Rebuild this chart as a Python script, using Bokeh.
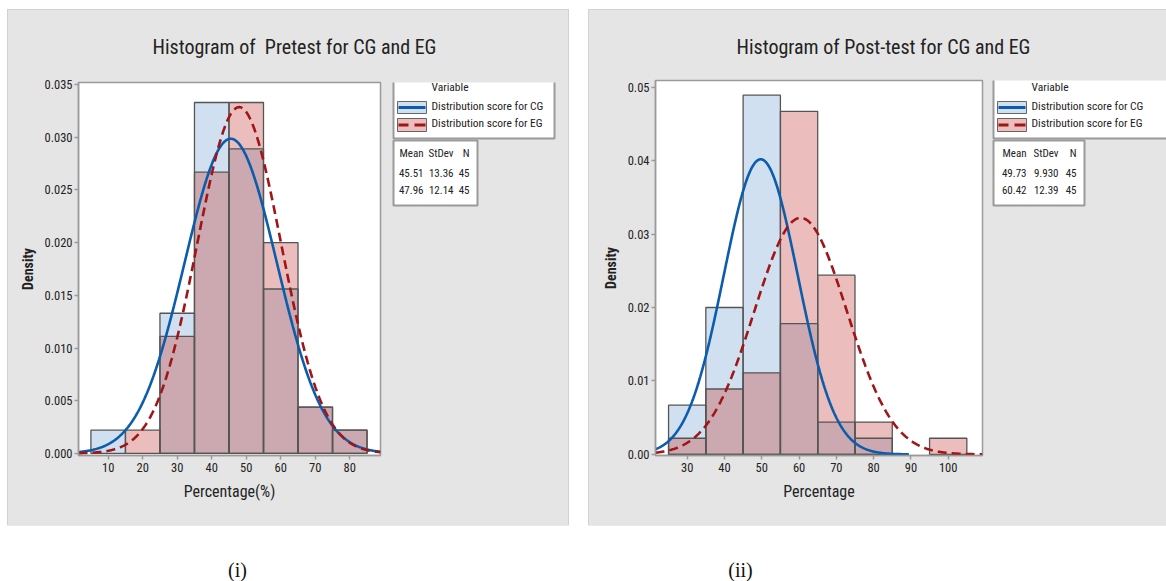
import numpy as np
from bokeh.plotting import figure
from bokeh.models import (Range1d, FixedTicker, PrintfTickFormatter, Label,
                          BoxAnnotation, Spacer)
from bokeh.layouts import row, column
from bokeh.embed import file_html
from bokeh.resources import INLINE

# ---------------- data ----------------
pre_title = "Histogram of\u00a0 Pretest for CG and EG"
pre_xlabel = "Percentage(%)"
pre_bins = [10, 20, 30, 40, 50, 60, 70, 80]
pre_cg = [0.0022, 0.0, 0.0133, 0.0333, 0.0289, 0.0156, 0.0044, 0.0022]
pre_eg = [0.0, 0.0022, 0.0111, 0.0267, 0.0333, 0.0200, 0.0044, 0.0022]
pre_mean = [45.51, 47.96]
pre_sd = [13.36, 12.14]
pre_table = [["45.51", "13.36", "45"], ["47.96", "12.14", "45"]]
pre_xticks = [10, 20, 30, 40, 50, 60, 70, 80]
pre_yticks = [0.0, 0.005, 0.010, 0.015, 0.020, 0.025, 0.030, 0.035]

post_title = "Histogram of Post-test for CG and EG"
post_xlabel = "Percentage"
post_bins = [30, 40, 50, 60, 70, 80, 90, 100]
post_cg = [0.0067, 0.0200, 0.0489, 0.0178, 0.0044, 0.0022, 0.0, 0.0]
post_eg = [0.0022, 0.0089, 0.0111, 0.0467, 0.0244, 0.0044, 0.0, 0.0022]
post_mean = [49.73, 60.42]
post_sd = [9.930, 12.39]
post_table = [["49.73", "9.930", "45"], ["60.42", "12.39", "45"]]
post_xticks = [30, 40, 50, 60, 70, 80, 90, 100]
post_yticks = [0.00, 0.01, 0.02, 0.03, 0.04, 0.05]

series_names = ["Distribution score for CG", "Distribution score for EG"]
table_header = ["Mean", "StDev", "N"]
bin_width = 10
captions = ["(i)", "(ii)"]

# ---------------- style ----------------
FONT = "Liberation Sans Narrow, Roboto Condensed, Roboto, sans-serif"
PANEL = "#e5e5e5"
BLUE_FILL = "#d0e0f0"
PINK_FILL = "#ebbdbd"
MIX_FILL = "#cca9b1"
BAR_LINE = "#555555"
BLUE = "#0b5cab"
RED = "#a01515"
AXIS = "#9a9a9a"
TXT = "#222222"
H = 515
TOP = 62  # height of the title strip inside each panel


def blank(w, h, bg=PANEL):
    f = figure(width=w, height=h, x_range=Range1d(0, 1), y_range=Range1d(0, 1),
               output_backend="svg", toolbar_location=None, min_border=0,
               x_axis_location=None, y_axis_location=None)
    f.grid.visible = False
    f.outline_line_color = None
    f.border_fill_color = bg
    f.background_fill_color = bg
    return f


def box(p, l, t, r, b, fill=None, line=None, lw=1.0):
    p.add_layout(BoxAnnotation(left=l, right=r, top=t, bottom=b,
                               left_units="canvas", right_units="canvas",
                               top_units="canvas", bottom_units="canvas",
                               fill_color=fill, fill_alpha=1.0 if fill else 0.0,
                               line_color=line, line_alpha=1.0 if line else 0.0,
                               line_width=lw))


def text(p, x, y, s, size=12, align="left", font=FONT, color=TXT):
    p.add_layout(Label(x=x, y=y, x_units="canvas", y_units="canvas", text=s,
                       text_font=font, text_font_size=f"{size}px",
                       text_align=align, text_baseline="middle",
                       text_color=color))


def make_hist(width, frame_l, frame_t, frame_b, xr, yr, bins, cg, eg,
              means, sds, xticks, yticks, yfmt, xlabel):
    h = H - TOP
    p = figure(width=width, height=h, x_range=Range1d(*xr), y_range=Range1d(*yr),
               output_backend="svg", toolbar_location=None,
               min_border_left=frame_l, min_border_right=8,
               min_border_top=frame_t - TOP, min_border_bottom=H - frame_b)
    p.border_fill_color = PANEL
    p.background_fill_color = "white"
    p.outline_line_color = AXIS
    p.outline_line_width = 1.5
    p.grid.visible = False

    bins = np.array(bins, float)
    cg = np.array(cg)
    eg = np.array(eg)
    left = bins - bin_width / 2
    right = bins + bin_width / 2
    mix = np.minimum(cg, eg)
    m = cg > 0
    p.quad(left=left[m], right=right[m], bottom=0, top=cg[m],
           fill_color=BLUE_FILL, line_color=None)
    m = eg > 0
    p.quad(left=left[m], right=right[m], bottom=0, top=eg[m],
           fill_color=PINK_FILL, line_color=None)
    m = mix > 0
    p.quad(left=left[m], right=right[m], bottom=0, top=mix[m],
           fill_color=MIX_FILL, line_color=None)
    for vals in (cg, eg):
        m = vals > 0
        p.quad(left=left[m], right=right[m], bottom=0, top=vals[m],
               fill_alpha=0, line_color=BAR_LINE, line_width=1.3)

    for mu, sd, col, dash in zip(means, sds, (BLUE, RED), ("solid", "9 5")):
        xs = np.linspace(max(xr[0], mu - 4 * sd), min(xr[1], mu + 4 * sd), 500)
        ys = np.exp(-0.5 * ((xs - mu) / sd) ** 2) / (sd * np.sqrt(2 * np.pi))
        p.line(xs, ys, line_color=col, line_width=2.6, line_dash=dash)

    for ax in (p.xaxis[0], p.yaxis[0]):
        ax.axis_line_color = AXIS
        ax.axis_line_width = 1.5
        ax.major_tick_line_color = AXIS
        ax.major_tick_line_width = 1.5
        ax.major_tick_out = 4
        ax.major_tick_in = 0
        ax.minor_tick_line_color = None
        ax.major_label_text_font = FONT
        ax.major_label_text_font_size = "12.5px"
        ax.major_label_text_color = TXT
        ax.axis_label_text_font = FONT
        ax.axis_label_text_color = TXT
        ax.axis_label_text_font_style = "normal"
    p.xaxis.ticker = FixedTicker(ticks=xticks)
    p.yaxis.ticker = FixedTicker(ticks=yticks)
    p.yaxis.formatter = PrintfTickFormatter(format=yfmt)
    p.xaxis.axis_label = xlabel
    p.xaxis.axis_label_text_font_size = "16px"
    p.xaxis.major_label_standoff = 3
    p.xaxis.axis_label_standoff = 7
    p.yaxis.axis_label = "Density"
    p.yaxis.axis_label_text_font_size = "14px"
    p.yaxis.axis_label_text_font_style = "bold"
    p.yaxis.major_label_standoff = 2
    p.yaxis.axis_label_standoff = 6
    return p


def make_panel(W, hist_w, frame_l, frame_t, frame_b, xr, yr, bins, cg, eg, means,
               sds, xticks, yticks, yfmt, title, title_x, xlabel, leg_l, leg_r,
               table, col_right):
    t = blank(W, TOP)
    text(t, title_x, 36, title, size=20, align="center")

    hist = make_hist(hist_w, frame_l, frame_t, frame_b, xr, yr, bins, cg, eg,
                     means, sds, xticks, yticks, yfmt, xlabel)

    lg = blank(W - hist_w, H - TOP)
    ox, oy = hist_w, TOP  # origin of legend strip in panel coordinates

    def B(l, tt, r, b, **kw):
        box(lg, l - ox, tt - oy, r - ox, b - oy, **kw)

    def T(x, y, s, **kw):
        text(lg, x - ox, y - oy, s, **kw)

    B(leg_l, 64, leg_r, 128, fill="white", line=AXIS, lw=2)
    T(leg_l + 38, 76, "Variable", size=11.5)
    gl, gr = leg_l + 4, leg_l + 33
    B(gl, 91, gr, 103, fill=BLUE_FILL, line="#666666", lw=1)
    B(gl + 1, 95.5, gr - 1, 98.5, fill=BLUE)
    B(gl, 108, gr, 121, fill=PINK_FILL, line="#666666", lw=1)
    B(gl + 1, 113, gl + 11, 116, fill=RED)
    B(gl + 17, 113, gr - 1, 116, fill=RED)
    T(leg_l + 38, 95, series_names[0], size=11.5)
    T(leg_l + 38, 112, series_names[1], size=11.5)
    B(leg_l, 130, col_right[2] + 8, 195, fill="white", line=AXIS, lw=2)
    ys_rows = [143, 162, 179]
    for j, hd in enumerate(table_header):
        T(col_right[j], ys_rows[0], hd, size=11, align="right")
    for i, rowv in enumerate(table):
        for j, v in enumerate(rowv):
            T(col_right[j], ys_rows[i + 1], v, size=11, align="right")

    bg = {"background-color": PANEL}
    outer = {"background-color": PANEL, "outline": "1px solid #d2d2d2"}
    return column(t, row(hist, lg, styles=bg), styles=outer)


W1, W2 = 560, 577
p1 = make_panel(W1, 380, 70, 72, 445, (1.4, 88.9), (-0.0002, 0.0352),
                pre_bins, pre_cg, pre_eg, pre_mean, pre_sd, pre_xticks, pre_yticks,
                "%.3f", pre_title, 286, pre_xlabel, 385, 546, pre_table,
                [415, 445, 461])
p2 = make_panel(W2, 401, 66, 70, 445, (21.5, 109.2), (-0.00015, 0.0509),
                post_bins, post_cg, post_eg, post_mean, post_sd, post_xticks,
                post_yticks, "%.2f", post_title, 294, post_xlabel, 404, 590,
                post_table, [437, 469, 487])

CH = 56
cap = blank(8 + W1 + 21 + W2, CH, bg="white")
for cx, s in zip((237, 740), captions):
    text(cap, cx, 44, s, size=20, align="center", font="Liberation Serif",
         color="#111111")

layout = column(Spacer(height=10),
                row(Spacer(width=8), p1, Spacer(width=21), p2), cap)
open("out.html", "w").write(file_html(layout, INLINE))
